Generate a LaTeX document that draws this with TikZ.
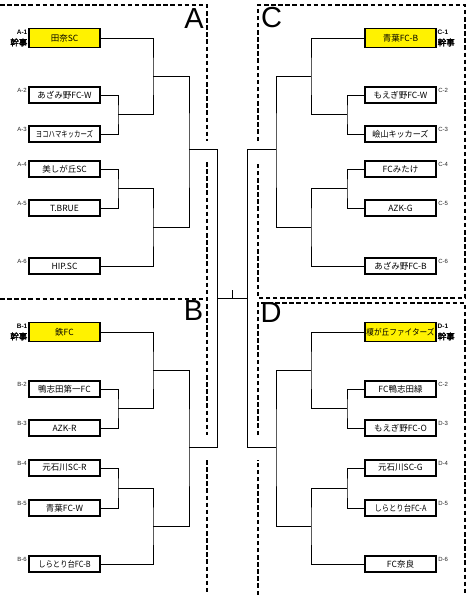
\documentclass[tikz,border=0pt]{standalone}
\usepackage{fontspec}
\usepackage{graphicx}
\newfontfamily\jp{Noto Sans CJK JP}
\newfontfamily\jpb[FakeBold=2.5]{Noto Sans CJK JP}
\newfontfamily\lat{Liberation Sans}
\newcommand{\sqz}[2]{\scalebox{#1}[1]{#2}}
\begin{document}
\begin{tikzpicture}[x=1pt,y=-1pt,
  team/.style={draw,line width=1.3pt,fill=white,minimum width=71pt,minimum height=16pt,inner sep=0pt,font=\jp\fontsize{8.5}{9}\selectfont},
  hl/.style={team,fill=yellow,minimum height=19pt},
  conn/.style={line width=0.9pt},
  dsh/.style={line width=1.6pt,dash pattern=on 4.5pt off 2.6pt},
  big/.style={font=\lat\fontsize{29}{29}\selectfont,inner sep=0pt,anchor=base},
  sml/.style={font=\lat\fontsize{6}{6}\selectfont,inner sep=0pt,text=black!85},
  kanl/.style={inner sep=0pt,align=right,anchor=north east},
  kanr/.style={inner sep=0pt,align=left,anchor=north west}
]
\useasboundingbox (0,0) rectangle (469,595);
\fill[white] (0,0) rectangle (469,595);

% dashed group frames
\draw[dsh] (0,5) -- (207,5) -- (207,141);
\draw[dsh] (207,162) -- (207,435);
\draw[dsh] (207,460) -- (207,595);
\draw[dsh] (0,299) -- (207,299);
\draw[dsh] (258,141) -- (258,5) -- (465,5) -- (465,298) -- (258,298) -- (258,162);
\draw[dsh] (258,595) -- (258,460);
\draw[dsh] (258,435) -- (258,303) -- (465,303) -- (465,595);

% group letters
\node[big] (LA) at (194,28) {A};
\node[big] (LB) at (193.5,320) {B};
\node[big] (LC) at (271.5,27) {C};
\node[big] (LD) at (271,322) {D};

% teams A
\node[hl]   (a1) at (64.5,38)  {田奈SC};
\node[team] (a2) at (64.5,95)  {あざみ野FC-W};
\node[team] (a3) at (64.5,134) {\sqz{0.75}{ヨコハマキッカーズ}};
\node[team] (a4) at (64.5,169) {美しが丘SC};
\node[team] (a5) at (64.5,208) {T.BRUE};
\node[team] (a6) at (64.5,266) {HIP.SC};
% teams B
\node[hl]   (b1) at (64.5,332) {鉄FC};
\node[team] (b2) at (64.5,389) {鴨志田第一FC};
\node[team] (b3) at (64.5,428) {AZK-R};
\node[team] (b4) at (64.5,468) {元石川SC-R};
\node[team] (b5) at (64.5,508) {青葉FC-W};
\node[team] (b6) at (64.5,564) {\sqz{0.86}{しらとり台FC-B}};
% teams C
\node[hl]   (c1) at (400.5,38)  {青葉FC-B};
\node[team] (c2) at (400.5,95)  {もえぎ野FC-W};
\node[team] (c3) at (400.5,134) {\sqz{0.95}{嶮山キッカーズ}};
\node[team] (c4) at (400.5,169) {FCみたけ};
\node[team] (c5) at (400.5,208) {AZK-G};
\node[team] (c6) at (400.5,266) {あざみ野FC-B};
% teams D
\node[hl]   (d1) at (400.5,332) {\sqz{0.9}{榎が丘ファイターズ}};
\node[team] (d2) at (400.5,389) {FC鴨志田緑};
\node[team] (d3) at (400.5,428) {もえぎ野FC-O};
\node[team] (d4) at (400.5,468) {元石川SC-G};
\node[team] (d5) at (400.5,508) {\sqz{0.86}{しらとり台FC-A}};
\node[team] (d6) at (400.5,564) {FC奈良};

% seed labels
\node[kanl] (ka1) at (27.5,29.5) {{\lat\bfseries\fontsize{6.5}{6.5}\selectfont A-1}\\[-0.5pt]{\jpb\fontsize{8.5}{8.5}\selectfont 幹事}};
\node[kanl] (kb1) at (27.5,323.5) {{\lat\bfseries\fontsize{6.5}{6.5}\selectfont B-1}\\[-0.5pt]{\jpb\fontsize{8.5}{8.5}\selectfont 幹事}};
\node[kanr] (kc1) at (437.5,29.5) {{\lat\bfseries\fontsize{6.5}{6.5}\selectfont C-1}\\[-0.5pt]{\jpb\fontsize{8.5}{8.5}\selectfont 幹事}};
\node[kanr] (kd1) at (437.5,323.5) {{\lat\bfseries\fontsize{6.5}{6.5}\selectfont D-1}\\[-0.5pt]{\jpb\fontsize{8.5}{8.5}\selectfont 幹事}};
\foreach \n/\t in {a2/A-2,a3/A-3,a4/A-4,a5/A-5,a6/A-6,b2/B-2,b3/B-3,b4/B-4,b5/B-5,b6/B-6}
  \node[sml,anchor=north east] (l\n) at ([xshift=-1.5pt,yshift=-2pt]\n.north west) {\t};
\foreach \n/\t in {c2/C-2,c3/C-3,c4/C-4,c5/C-5,c6/C-6,d2/C-2,d3/D-3,d4/D-4,d5/D-5,d6/D-6}
  \node[sml,anchor=north west] (l\n) at ([xshift=1.5pt,yshift=-2pt]\n.north east) {\t};

% junction coordinates, left side
\coordinate (a23)  at (118,114.5);
\coordinate (a123) at (153,76.25);
\coordinate (a45)  at (118,188.5);
\coordinate (a456) at (153,227.25);
\coordinate (aw)   at (189,149);
\coordinate (b23)  at (118,408.5);
\coordinate (b123) at (153,370.25);
\coordinate (b45)  at (118,488);
\coordinate (b456) at (153,526);
\coordinate (bw)   at (189,447);
\coordinate (lt)   at (217,149);
\coordinate (lb)   at (217,447);
\coordinate (lm)   at (217,298);
% right side
\coordinate (c23)  at (347,114.5);
\coordinate (c123) at (311,76.25);
\coordinate (c45)  at (347,188.5);
\coordinate (c456) at (311,227.25);
\coordinate (cw)   at (276,149);
\coordinate (d23)  at (347,408.5);
\coordinate (d123) at (311,370.25);
\coordinate (d45)  at (347,488);
\coordinate (d456) at (311,526);
\coordinate (dw)   at (276,447);
\coordinate (rt)   at (247,149);
\coordinate (rb)   at (247,447);
\coordinate (rm)   at (247,298);
\coordinate (tk)   at (232,298);
\coordinate (tkt)  at (232,290);

% connectors A
\draw[conn] (a2.east) -| (a23) |- (a3.east);
\draw[conn] (a1.east) -| (a123) |- (a23);
\draw[conn] (a4.east) -| (a45) |- (a5.east);
\draw[conn] (a45) -| (a456) |- (a6.east);
\draw[conn] (a123) -| (aw) |- (a456);
% connectors B
\draw[conn] (b2.east) -| (b23) |- (b3.east);
\draw[conn] (b1.east) -| (b123) |- (b23);
\draw[conn] (b4.east) -| (b45) |- (b5.east);
\draw[conn] (b45) -| (b456) |- (b6.east);
\draw[conn] (b123) -| (bw) |- (b456);
% connectors C
\draw[conn] (c2.west) -| (c23) |- (c3.west);
\draw[conn] (c1.west) -| (c123) |- (c23);
\draw[conn] (c4.west) -| (c45) |- (c5.west);
\draw[conn] (c45) -| (c456) |- (c6.west);
\draw[conn] (c123) -| (cw) |- (c456);
% connectors D
\draw[conn] (d2.west) -| (d23) |- (d3.west);
\draw[conn] (d1.west) -| (d123) |- (d23);
\draw[conn] (d4.west) -| (d45) |- (d5.west);
\draw[conn] (d45) -| (d456) |- (d6.west);
\draw[conn] (d123) -| (dw) |- (d456);
% final
\draw[conn] (aw) -- (lt) -- (lb) -- (bw);
\draw[conn] (cw) -- (rt) -- (rb) -- (dw);
\draw[conn] (lm) -- (rm);
\draw[conn] (tk) -- (tkt);
\end{tikzpicture}
\end{document}
